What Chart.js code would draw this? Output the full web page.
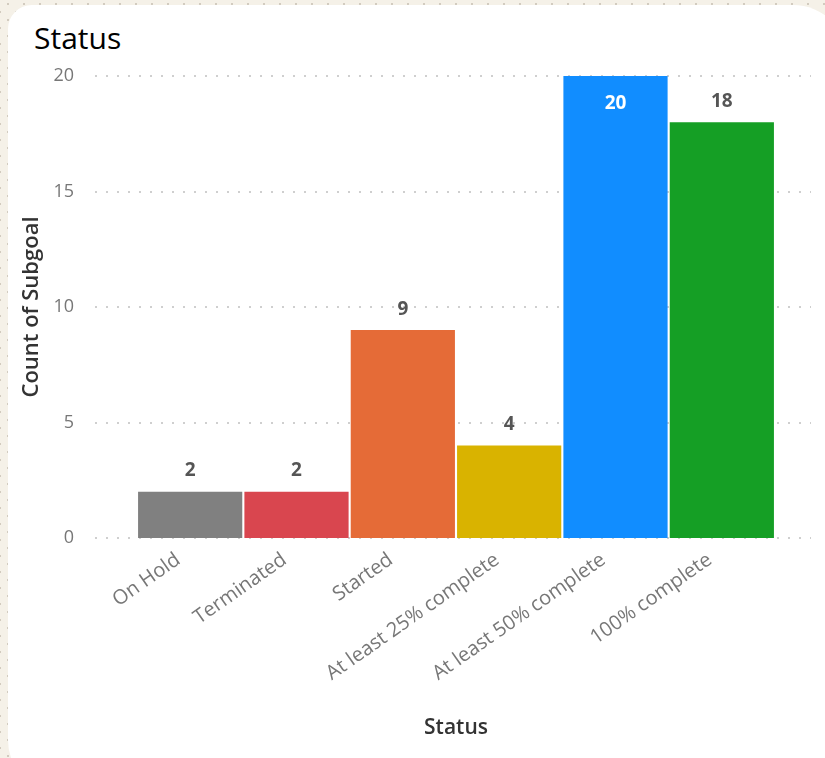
<!DOCTYPE html>
<html>
<head>
<meta charset="utf-8">
<script src="https://cdn.jsdelivr.net/npm/chart.js@4.4.0/dist/chart.umd.min.js"></script>
<style>
  html, body { margin: 0; padding: 0; }
  body {
    width: 825px; height: 758px; overflow: hidden; position: relative;
    background-color: #f5f1e8;
    background-image:
      radial-gradient(circle, #d2cbbf 1px, transparent 1.3px),
      radial-gradient(circle, #d2cbbf 1px, transparent 1.3px);
    background-size: 16px 16px, 16px 16px;
    background-position: 0 -4px, 8px 4px;
  }
  #card {
    position: absolute; left: 8px; top: 5px; width: 840px; height: 790px;
    background: #fff; border-radius: 24px 55px 55px 55px;
  }
  #title {
    position: absolute; left: 34px; top: 17px;
    font-family: "Open Sans", "Noto Sans", sans-serif; font-size: 30px; color: #000;
  }
  #wrap { position: absolute; left: 0; top: 0; width: 825px; height: 758px; }
</style>
</head>
<body>
<div id="card"></div>
<div id="title">Status</div>
<div id="wrap"><canvas id="chart_status"></canvas></div>
<script>
// chart values
const categories = ['On Hold', 'Terminated', 'Started', 'At least 25% complete', 'At least 50% complete', '100% complete'];
const counts = [2, 2, 9, 4, 20, 18];
const barColors = ['#808080', '#D9464F', '#E56B37', '#D9B300', '#118DFF', '#159F25'];
const yTicks = [0, 5, 10, 15, 20];

// dotted gridlines that run past the bars like Power BI does
const dottedGrid = {
    id: 'dottedGrid',
    beforeDatasetsDraw(chart) {
        const { ctx, chartArea, scales } = chart;
        ctx.save();
        ctx.strokeStyle = '#cfcfcf';
        ctx.lineWidth = 2;
        ctx.setLineDash([2, 9]);
        yTicks.forEach(v => {
            const y = Math.round(scales.y.getPixelForValue(v));
            ctx.beginPath();
            ctx.moveTo(chartArea.left - 42, y);
            ctx.lineTo(chartArea.right + 36, y);
            ctx.stroke();
        });
        ctx.restore();
    }
};

// value labels above bars (inside when the bar hits the top)
const valueLabels = {
    id: 'valueLabels',
    afterDatasetsDraw(chart) {
        const { ctx, scales } = chart;
        const meta = chart.getDatasetMeta(0);
        ctx.save();
        ctx.font = 'bold 19px "Open Sans", "DejaVu Sans", sans-serif';
        ctx.textAlign = 'center';
        ctx.textBaseline = 'middle';
        meta.data.forEach((bar, i) => {
            const v = counts[i];
            const inside = v >= scales.y.max;
            ctx.fillStyle = inside ? '#ffffff' : '#555555';
            const y = inside ? bar.y + 28 : bar.y - 21;
            ctx.fillText(String(v), bar.x, y);
        });
        ctx.restore();
    }
};

new Chart(document.getElementById('chart_status'), {
    type: 'bar',
    data: {
        labels: categories,
        datasets: [{
            label: 'Count of Subgoal',
            data: counts,
            backgroundColor: barColors,
            borderWidth: 0,
            barPercentage: 0.98,
            categoryPercentage: 1.0,
        }],
    },
    options: {
        responsive: true,
        maintainAspectRatio: false,
        animation: false,
        layout: { padding: { left: 19, right: 50, top: 76, bottom: 0 } },
        plugins: {
            legend: { display: false },
            tooltip: { enabled: false },
        },
        scales: {
            y: {
                min: 0, max: 20,
                afterFit: (s) => { s.width = 118; },
                afterBuildTicks: (s) => { s.ticks = yTicks.map(v => ({ value: v })); },
                grid: { display: false },
                border: { display: false },
                ticks: {
                    padding: 55,
                    color: '#777777',
                    font: { family: '"Open Sans", sans-serif', size: 18 },
                },
                title: {
                    display: true,
                    text: 'Count of Subgoal',
                    color: '#333333',
                    font: { family: '"Open Sans", sans-serif', size: 22, weight: '600' },
                    padding: { top: 0, bottom: 0 },
                },
            },
            x: {
                afterFit: (s) => { s.height = 220; },
                grid: { display: false },
                border: { display: false },
                ticks: {
                    minRotation: 35, maxRotation: 35,
                    padding: 2,
                    labelOffset: -12,
                    color: '#777777',
                    font: { family: '"Open Sans", sans-serif', size: 20 },
                },
                title: {
                    display: true,
                    text: 'Status',
                    color: '#333333',
                    font: { family: '"Open Sans", sans-serif', size: 21, weight: '600' },
                    padding: { top: 0, bottom: 17 },
                },
            },
        },
    },
    plugins: [dottedGrid, valueLabels],
});
</script>
</body>
</html>
